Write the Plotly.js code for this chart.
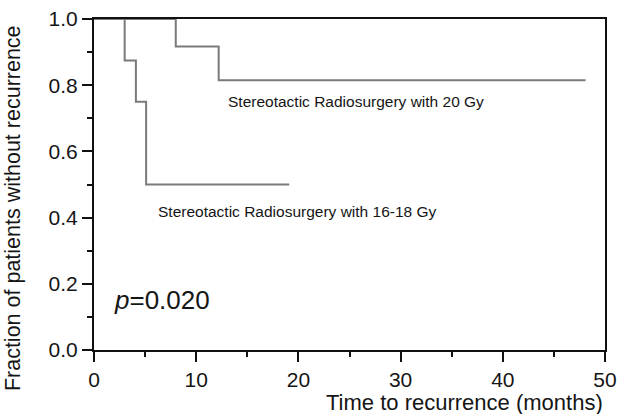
<!DOCTYPE html>
<html>
<head>
<meta charset="utf-8">
<script src="https://cdn.plot.ly/plotly-3.0.1.min.js"></script>
<style>html,body{margin:0;padding:0;background:#fff;}#chart{width:618px;height:414px;}</style>
</head>
<body>
<div id="chart"></div>
<script>
// Kaplan-Meier style step data (months, fraction without recurrence)
const time20 = [0, 8.0, 12.2, 48.1];
const surv20 = [1.0, 0.917, 0.815, 0.815];
const time1618 = [0, 3.0, 4.1, 5.1, 19.1];
const surv1618 = [1.0, 0.875, 0.75, 0.5, 0.5];
const label20 = "Stereotactic Radiosurgery with 20 Gy";
const label1618 = "Stereotactic Radiosurgery with 16-18 Gy";
const pLabel = "<i>p</i>=0.020";
const xTitle = "Time to recurrence (months)";
const yTitle = "Fraction of patients without recurrence";

const font = "Liberation Sans, Arial, sans-serif";
const txt = "#151515";

const traces = [
  {x: time20, y: surv20, mode: "lines", line: {shape: "hv", color: "#7a7a7a", width: 2}, showlegend: false, hoverinfo: "skip"},
  {x: time1618, y: surv1618, mode: "lines", line: {shape: "hv", color: "#7a7a7a", width: 2}, showlegend: false, hoverinfo: "skip"}
];

const layout = {
  width: 618, height: 414,
  margin: {l: 94, r: 13, t: 19, b: 64},
  paper_bgcolor: "#fff", plot_bgcolor: "#fff",
  font: {family: font, color: txt, size: 21},
  xaxis: {
    range: [0, 50], dtick: 10, tick0: 0, showgrid: false, zeroline: false,
    showline: true, linecolor: "#111", linewidth: 2, mirror: true, layer: "above traces",
    ticks: "outside", ticklen: 10, tickwidth: 2, tickcolor: "#111",
    minor: {dtick: 5, ticks: "outside", ticklen: 5, tickwidth: 2, tickcolor: "#111", showgrid: false},
    tickfont: {size: 21, color: txt, family: font}
  },
  yaxis: {
    range: [0, 1.0], dtick: 0.2, tick0: 0, tickformat: ".1f", showgrid: false, zeroline: false,
    showline: true, linecolor: "#111", linewidth: 2, mirror: true, layer: "above traces",
    ticks: "outside", ticklen: 10, tickwidth: 2, tickcolor: "#111",
    minor: {dtick: 0.1, ticks: "outside", ticklen: 5, tickwidth: 2, tickcolor: "#111", showgrid: false},
    tickfont: {size: 21, color: txt, family: font}
  },
  annotations: [
    {x: 12.9, y: 0.75, xref: "x", yref: "y", text: label20, showarrow: false, xanchor: "left", yanchor: "middle", font: {size: 15.5, color: txt, family: font}},
    {x: 6.1, y: 0.417, xref: "x", yref: "y", text: label1618, showarrow: false, xanchor: "left", yanchor: "middle", font: {size: 15.5, color: txt, family: font}},
    {x: 1.8, y: 0.15, xref: "x", yref: "y", text: pLabel, showarrow: false, xanchor: "left", yanchor: "middle", font: {size: 26, color: txt, family: font}},
    {x: 1.0, y: -0.16, xref: "paper", yref: "paper", text: xTitle, showarrow: false, xanchor: "right", yanchor: "middle", font: {size: 22, color: txt, family: font}},
    {x: -0.157, y: 0.428, xref: "paper", yref: "paper", text: yTitle, showarrow: false, textangle: -90, xanchor: "center", yanchor: "middle", font: {size: 21.5, color: txt, family: font}}
  ]
};

Plotly.newPlot("chart", traces, layout, {displayModeBar: false, staticPlot: true});
</script>
</body>
</html>
